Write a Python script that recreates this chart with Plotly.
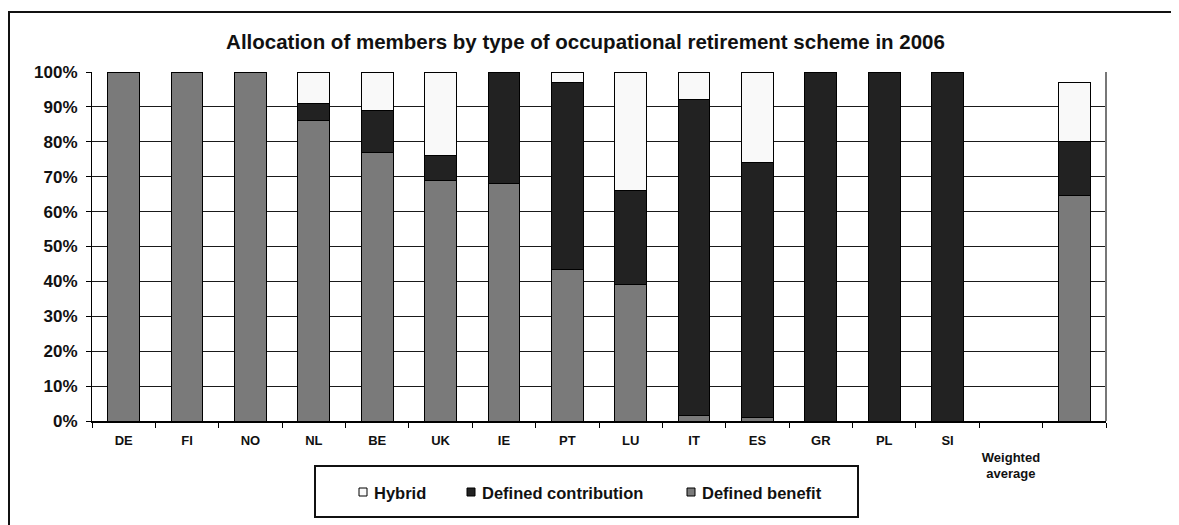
import plotly.graph_objects as go

categories = ["DE", "FI", "NO", "NL", "BE", "UK", "IE", "PT", "LU", "IT", "ES",
              "GR", "PL", "SI", " <br>Weighted<br>average", " "]
defined_benefit = [100, 100, 100, 86, 77, 69, 68, 43.5, 39, 1.5, 1,
                   None, None, None, None, 64.5]
defined_contribution = [None, None, None, 5, 12, 7, 32, 53.5, 27, 90.5, 73,
                        100, 100, 100, None, 15.5]
hybrid = [None, None, None, 9, 11, 24, None, 3, 34, 8, 26,
          None, None, None, None, 17]
y_ticks = list(range(0, 101, 10))
y_tick_labels = [f"{v}%" for v in y_ticks]
legend_names = ["Hybrid", "Defined contribution", "Defined benefit"]

FONT = "Liberation Sans, Arial, sans-serif"
DB_COLOR, DC_COLOR, HY_COLOR = "#7a7a7a", "#222222", "#f9f9f9"

fig = go.Figure()
fig.add_trace(go.Bar(x=categories, y=defined_benefit, name="Defined benefit",
                     marker=dict(color=DB_COLOR, line=dict(color="#000000", width=1))))
fig.add_trace(go.Bar(x=categories, y=defined_contribution, name="Defined contribution",
                     marker=dict(color=DC_COLOR, line=dict(color="#000000", width=1))))
fig.add_trace(go.Bar(x=categories, y=hybrid, name="Hybrid",
                     marker=dict(color=HY_COLOR, line=dict(color="#000000", width=1))))

# figure is 1171x517 (page body adds an 8px margin)
FW, FH = 1171, 517
L, T = 84, 64          # plot area left/top in figure px
PR, PB = 1098, 413     # plot area right/bottom in figure px
W, H = PR - L, PB - T

def px(xp):
    return (xp - L) / W

def py(yp):
    return (PB - yp) / H

shapes = [
    # right border of plot area
    dict(type="line", xref="paper", yref="paper", x0=1, x1=1, y0=0, y1=1,
         line=dict(color="#777777", width=2)),
    # outer frame: top and left edges
    dict(type="line", xref="paper", yref="paper", x0=px(0), x1=px(FW),
         y0=py(4), y1=py(4), line=dict(color="#111111", width=2)),
    dict(type="line", xref="paper", yref="paper", x0=px(1), x1=px(1),
         y0=py(4), y1=py(FH), line=dict(color="#111111", width=2)),
    # legend box
    dict(type="rect", xref="paper", yref="paper", x0=px(307), x1=px(850),
         y0=py(458), y1=py(509), line=dict(color="#111111", width=2),
         fillcolor="white"),
]
annotations = []
legend_colors = [HY_COLOR, DC_COLOR, DB_COLOR]
marker_x = [351, 459, 679]
text_x = [364, 472, 692]
for name, col, mx, tx in zip(legend_names, legend_colors, marker_x, text_x):
    shapes.append(dict(type="rect", xref="paper", yref="paper",
                       x0=px(mx), x1=px(mx + 8), y0=py(480), y1=py(488),
                       line=dict(color="#000000", width=1), fillcolor=col))
    annotations.append(dict(text=name, xref="paper", yref="paper",
                            x=px(tx), y=py(484.5), xanchor="left", yanchor="middle",
                            showarrow=False,
                            font=dict(family=FONT, size=16.5, weight="bold",
                                      color="#111111")))

fig.update_layout(
    width=FW, height=FH,
    margin=dict(l=L, r=FW - PR, t=T, b=FH - PB, pad=0),
    barmode="stack", bargap=0.5,
    showlegend=False,
    paper_bgcolor="white", plot_bgcolor="white",
    font=dict(family=FONT, color="#111111"),
    title=dict(text="Allocation of members by type of occupational retirement scheme in 2006",
               x=px(577.5), xanchor="center", xref="paper",
               y=1 - 34 / FH, yanchor="middle",
               font=dict(family=FONT, size=20.5, weight="bold", color="#111111")),
    hovermode=False,
    xaxis=dict(type="category", tickson="boundaries", ticks="outside", ticklen=5,
               tickcolor="#000000", showline=True, linecolor="#000000", linewidth=2,
               showgrid=False, ticklabelstandoff=6, tickangle=0,
               tickfont=dict(family=FONT, size=13, weight="bold", color="#111111")),
    yaxis=dict(range=[0, 100], tickmode="array", tickvals=y_ticks,
               ticktext=y_tick_labels, ticks="outside",
               ticklen=5, tickcolor="#000000", showline=True, linecolor="#000000",
               linewidth=1, showgrid=True, gridcolor="#1a1a1a", gridwidth=1,
               zeroline=False, ticklabelstandoff=5,
               tickfont=dict(family=FONT, size=17, weight="bold", color="#111111")),
    shapes=shapes,
    annotations=annotations,
)

fig.write_html("out.html")
